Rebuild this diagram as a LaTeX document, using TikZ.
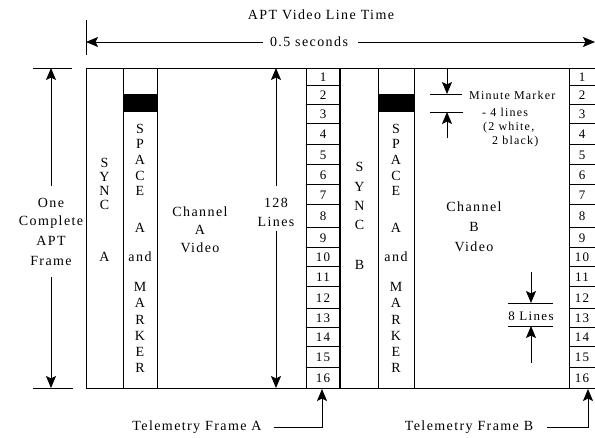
\documentclass[tikz,border=0pt]{standalone}
\usepackage{fontspec}
\setmainfont{Liberation Serif}[LetterSpace=10]
\usetikzlibrary{arrows.meta}
\begin{document}
\begin{tikzpicture}[x=1pt,y=-1pt,
  ln/.style={line width=0.8pt},
  arr/.style={line width=0.8pt,-{Stealth[length=12pt,width=10pt,inset=2.5pt]}},
  txt/.style={inner sep=0pt,font=\fontsize{14}{16}\selectfont},
  sml/.style={inner sep=0pt,font=\fontsize{12}{14}\selectfont},
  mid/.style={inner sep=0pt,font=\fontsize{13}{15}\selectfont}]
\useasboundingbox (0,0) rectangle (595,438);

% frame outline
\draw[ln] (86,68) -- (595,68);
\draw[ln] (86,388) -- (595,388);
\draw[ln] (33,68) -- (72,68);
\draw[ln] (33,388) -- (73,388);
\foreach \x in {86,123,157,306,378,414,569} \draw[ln] (\x,68) -- (\x,388);
\draw[line width=2pt] (340,68) -- (340,388);
\fill (123,94) rectangle (157,112);
\fill (378,94) rectangle (414,112);

% telemetry cells
\foreach \t/\b [count=\i] in {68/85,85/104,104/123,123/144,144/164,164/184,184/204,204/227,227/247,247/266,266/286,286/308,308/327,327/346,346/367,367/388}{
  \draw[ln] (306,\b) -- (340,\b);
  \draw[ln] (569,\b) -- (595,\b);
  \node[mid] (ta\i) at (323,{(\t+\b)/2+1}) {\i};
  \node[mid] (tb\i) at (582,{(\t+\b)/2+1}) {\i};
}

% top: line time
\node[txt] (title) at (321,15) {APT Video Line Time};
\node[txt] (sec) at (309,42) {0.5 seconds};
\draw[ln] (86,20) -- (86,55);
\coordinate (secL) at (86,42);
\coordinate (secR) at (595,42);
\draw[arr] ([xshift=-7pt]sec.west) -- (secL);
\draw[arr] ([xshift=10pt]sec.east) -- (secR);

% left: one complete frame
\node[txt] (one) at (51,203) {One};
\node[txt] (comp) at (51,222) {Complete};
\node[txt] (apt) at (51,241) {APT};
\node[txt] (frm) at (51,261) {Frame};
\draw[arr] (51,186) -- (51,68);
\draw[arr] (51,277) -- (51,388);

% 128 lines
\node[txt] (l128) at (276,203) {128};
\node[txt] (lines) at (276,222) {Lines};
\draw[arr] (276,186) -- (276,68);
\draw[arr] (276,231) -- (276,388);

% SYNC columns
\foreach \c/\y in {S/163,Y/177,N/191,C/205,A/257}
  \node[txt] at (104.5,\y) {\c};
\foreach \c/\y in {S/167,Y/187,N/206,C/225,B/265}
  \node[txt] at (359.5,\y) {\c};

% SPACE columns
\foreach \x in {140,396}{
  \foreach \c/\y in {S/129,P/144,A/160,C/176,E/191,A/228,and/257,M/287,A/303,R/320,K/336,E/352,R/368}
    \node[txt] at (\x,\y) {\c};
}

% channel labels
\node[txt] (cha1) at (200,212) {Channel};
\node[txt] (cha2) at (200,230) {A};
\node[txt] (cha3) at (200,248) {Video};
\node[txt] (chb1) at (474,207) {Channel};
\node[txt] (chb2) at (474,227) {B};
\node[txt] (chb3) at (474,247) {Video};

% minute marker
\draw[arr] (447,68) -- (447,94);
\draw[ln] (430,94) -- (462,94);
\draw[ln] (430,112) -- (463,112);
\draw[arr] (447,138) -- (447,112);
\node[sml,anchor=west] (mm1) at (469,95) {Minute Marker};
\node[sml,anchor=west] (mm2) at (482,112) {- 4 lines};
\node[sml,anchor=west] (mm3) at (483,128) {(2 white,};
\node[sml,anchor=west] (mm4) at (492,142) {2 black)};

% 8 lines
\draw[arr] (531,272) -- (531,303);
\draw[ln] (508,303) -- (553,303);
\node[mid] (eight) at (531,316) {8 Lines};
\draw[ln] (508,326) -- (553,326);
\draw[arr] (531,363) -- (531,326);

% telemetry frame labels
\node[txt] (tfa) at (197,427) {Telemetry Frame A};
\node[txt] (tfb) at (469,427) {Telemetry Frame B};
\draw[arr] ([xshift=12pt]tfa.east) -| (322,389);
\draw[arr] ([xshift=14pt]tfb.east) -| (588,389);
\end{tikzpicture}
\end{document}
